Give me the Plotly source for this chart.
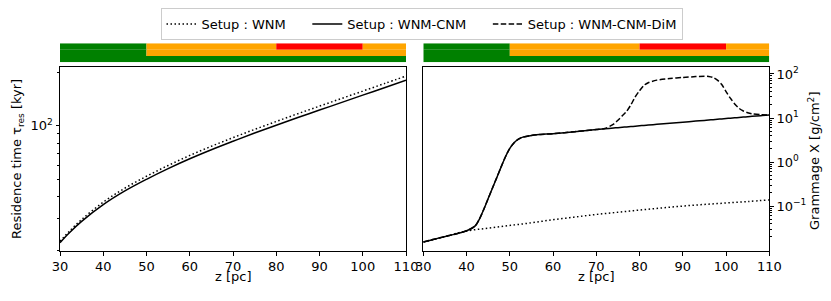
import plotly.graph_objects as go

# ---------------- data ----------------
# Left panel: residence time [kyr]
z_res = [30, 32, 35, 40, 45, 50, 55, 60, 65, 70, 75, 80, 85, 90, 95, 100, 105, 110]
tau_wnm = [22.4, 25.3, 29.7, 37.2, 44.6, 52.0, 59.8, 68.1, 76.7, 85.7, 95.4, 105.7, 116.9, 128.9, 142.1, 156.6, 172.6, 190.2]
tau_wnm_cnm = [22.0, 24.8, 29.0, 36.0, 43.0, 50.0, 57.4, 65.2, 73.3, 81.8, 91.0, 100.7, 111.2, 122.5, 134.9, 148.6, 163.7, 180.3]

# Right panel: grammage [g/cm^2]
z_gram = [30, 33, 36, 40, 42, 43, 44, 45, 46, 47, 48, 49, 50, 51, 52, 53, 55, 57, 60, 65, 70,
          72, 74, 75, 76, 77, 78, 79, 80, 81, 82, 84, 87, 90, 93, 95, 96, 97, 98, 99, 100,
          101, 102, 103, 104, 105, 106, 108, 110]
X_wnm_cnm = [0.01524, 0.0182, 0.02138, 0.02754, 0.0355, 0.0513, 0.0851, 0.148, 0.257, 0.447, 0.776,
             1.318, 2.042, 2.754, 3.311, 3.673, 4.027, 4.217, 4.416, 4.898, 5.495,
             5.715, 5.929, 6.039, 6.166, 6.281, 6.397, 6.516, 6.653, 6.776, 6.902, 7.178, 7.586,
             8.035, 8.511, 8.831, 9.016, 9.183, 9.354, 9.528, 9.727,
             9.908, 10.09, 10.28, 10.50, 10.69, 10.89, 11.32, 11.75]
X_wnm_cnm_dim = [0.01524, 0.0182, 0.02138, 0.02754, 0.0355, 0.0513, 0.0851, 0.148, 0.257, 0.447, 0.776,
                 1.318, 2.042, 2.754, 3.311, 3.673, 4.027, 4.217, 4.416, 4.898, 5.495,
                 5.80, 7.244, 8.913, 11.22, 14.13, 19.95, 30.2, 41.69, 54.95, 63.10, 72.44, 78.52,
                 83.18, 87.10, 89.13, 88.10, 83.18, 72.44, 57.54, 39.81,
                 28.18, 20.89, 16.60, 14.45, 13.18, 12.45, 11.89, 11.75]
z_wnm = [30, 35, 40, 45, 50, 55, 60, 65, 70, 75, 80, 85, 90, 95, 100, 105, 110]
X_wnm = [0.01524, 0.0204, 0.0271, 0.0316, 0.0363, 0.0417, 0.049, 0.0562, 0.0646, 0.0724,
         0.0813, 0.0902, 0.100, 0.109, 0.1175, 0.127, 0.138]

# phase strip above each panel (three rows, top to bottom)
strip_rows = [
    ([30, 50, 80, 100, 110], ["green", "orange", "red", "orange"]),
    ([30, 50, 110], ["green", "orange"]),
    ([30, 110], ["green"]),
]

x_ticks = [30, 40, 50, 60, 70, 80, 90, 100, 110]
left_yticks = [100]
left_yticktext = ["10<sup>2</sup>"]
right_yticks = [0.1, 1, 10, 100]
right_yticktext = ["10<sup>\u22121</sup>", "10<sup>0</sup>", "10<sup>1</sup>", "10<sup>2</sup>"]

legend_names = ["Setup : WNM", "Setup : WNM-CNM", "Setup : WNM-CNM-DiM"]

# ---------------- figure ----------------
# the page body has an 8px margin; lay everything out in window pixels
OFF = 8
W, H = 831 - OFF, 301 - OFF
FONT = "DejaVu Sans"
DOT = "1.5px,2.5px"
DASH = "5.5px,2.4px"
PAD = "\u00a0" * 4


def px(xp):
    return (xp - OFF) / W


def py(yp):
    return 1 - (yp - OFF) / H


fig = go.Figure()

# left panel
fig.add_trace(go.Scatter(x=z_res, y=tau_wnm, mode="lines", name=legend_names[0] + PAD,
                         line=dict(color="black", width=1.5, dash=DOT, shape="spline"),
                         xaxis="x", yaxis="y", legendrank=1))
fig.add_trace(go.Scatter(x=z_res, y=tau_wnm_cnm, mode="lines", name=legend_names[1] + PAD,
                         line=dict(color="black", width=1.5, shape="spline"),
                         xaxis="x", yaxis="y", legendrank=2))
# right panel
fig.add_trace(go.Scatter(x=z_wnm, y=X_wnm, mode="lines", name=legend_names[0], showlegend=False,
                         line=dict(color="black", width=1.5, dash=DOT, shape="spline"),
                         xaxis="x2", yaxis="y2"))
fig.add_trace(go.Scatter(x=z_gram, y=X_wnm_cnm_dim, mode="lines", name=legend_names[2],
                         line=dict(color="black", width=1.5, dash=DASH, shape="spline", smoothing=0.8),
                         xaxis="x2", yaxis="y2", legendrank=3))
fig.add_trace(go.Scatter(x=z_gram, y=X_wnm_cnm, mode="lines", name=legend_names[1], showlegend=False,
                         line=dict(color="black", width=1.5, shape="spline", smoothing=0.8),
                         xaxis="x2", yaxis="y2"))

# strips
shapes = []
for xref, yref in (("x3", "y3"), ("x4", "y4")):
    for i, (edges, colors) in enumerate(strip_rows):
        for j, c in enumerate(colors):
            shapes.append(dict(type="rect", xref=xref, yref=yref,
                               x0=edges[j], x1=edges[j + 1], y0=2 - i, y1=3 - i,
                               fillcolor=c, line=dict(width=0), layer="above"))

left_dom = [px(60), px(406)]
right_dom = [px(423.3), px(769.3)]
plot_dom = [py(251), py(66.7)]
strip_dom = [py(62.3), py(43.3)]

axis_common = dict(showline=True, linecolor="black", linewidth=1, mirror=True,
                   ticks="outside", ticklen=3.5, tickwidth=0.8, tickcolor="black",
                   showgrid=False, zeroline=False, automargin=False,
                   tickfont=dict(family=FONT, size=13, color="black"))

minor_left = [20, 30, 40, 50, 60, 70, 80, 90, 200]
minor_right = [m * d for d in (0.01, 0.1, 1, 10) for m in range(2, 10)]

fig.update_layout(
    template="none",
    width=W, height=H, margin=dict(l=0, r=0, t=0, b=0, autoexpand=False),
    paper_bgcolor="white", plot_bgcolor="white",
    font=dict(family=FONT, size=13, color="black"),
    showlegend=True,
    legend=dict(orientation="h", x=px(421.5), xanchor="center", y=py(8), yanchor="top",
                bordercolor="#cccccc", borderwidth=1, bgcolor="white",
                font=dict(family=FONT, size=13, color="black"), itemwidth=30,
                traceorder="normal"),
    xaxis=dict(domain=left_dom, anchor="y", range=[30, 110], tickvals=x_ticks, **axis_common),
    yaxis=dict(domain=plot_dom, anchor="x", type="log", range=[1.296, 2.332],
               tickvals=left_yticks, ticktext=left_yticktext,
               minor=dict(tickvals=minor_left, ticks="outside", ticklen=2, tickwidth=0.6, tickcolor="black"),
               **axis_common),
    xaxis2=dict(domain=right_dom, anchor="y2", range=[30, 110], tickvals=x_ticks, **axis_common),
    yaxis2=dict(domain=plot_dom, anchor="x2", type="log", range=[-2.02, 2.165], side="right",
                tickvals=right_yticks, ticktext=right_yticktext,
                minor=dict(tickvals=minor_right, ticks="outside", ticklen=2, tickwidth=0.6, tickcolor="black"),
                **axis_common),
    xaxis3=dict(domain=left_dom, anchor="y3", range=[30, 110], visible=False),
    yaxis3=dict(domain=strip_dom, anchor="x3", range=[0, 3], visible=False),
    xaxis4=dict(domain=right_dom, anchor="y4", range=[30, 110], visible=False),
    yaxis4=dict(domain=strip_dom, anchor="x4", range=[0, 3], visible=False),
    shapes=shapes,
    annotations=[
        dict(text="z [pc]", x=(left_dom[0] + left_dom[1]) / 2, y=py(276), xref="paper", yref="paper",
             xanchor="center", yanchor="middle", showarrow=False, font=dict(family=FONT, size=13)),
        dict(text="z [pc]", x=(right_dom[0] + right_dom[1]) / 2, y=py(276), xref="paper", yref="paper",
             xanchor="center", yanchor="middle", showarrow=False, font=dict(family=FONT, size=13)),
        dict(text="Residence time \u03c4<sub>res</sub> [kyr]", x=px(17), y=py(159), xref="paper", yref="paper",
             xanchor="center", yanchor="middle", textangle=-90, showarrow=False, font=dict(family=FONT, size=13)),
        dict(text="Grammage X [g/cm<sup>2</sup>]", x=px(814), y=py(161), xref="paper", yref="paper",
             xanchor="center", yanchor="middle", textangle=-90, showarrow=False, font=dict(family=FONT, size=13)),
    ],
)

fig.write_html("out.html")
